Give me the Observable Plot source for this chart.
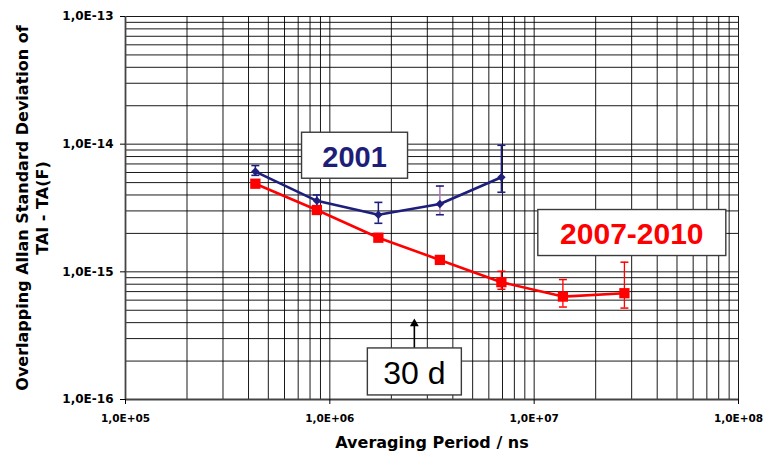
<!DOCTYPE html>
<html><head><meta charset="utf-8">
<script src="https://cdn.jsdelivr.net/npm/d3@7"></script>
<script src="https://cdn.jsdelivr.net/npm/@observablehq/plot@0.6"></script>
<style>
html,body{margin:0;padding:0;background:#fff;}
#chart svg{display:block;}
</style></head><body><div id="chart"></div>
<script>
// ---- data ----
const periods = [4.32e5, 8.64e5, 1.728e6, 3.456e6, 6.912e6, 1.3824e7, 2.7648e7];
const adev2001   = [6.1e-15, 3.6e-15, 2.8e-15, 3.4e-15, 5.5e-15];
const adev2001Lo = [5.7e-15, 3.25e-15, 2.4e-15, 2.8e-15, 4.2e-15];
const adev2001Hi = [6.8e-15, 4.0e-15, 3.5e-15, 4.7e-15, 9.8e-15];
const adev2007   = [4.9e-15, 3.05e-15, 1.85e-15, 1.24e-15, 8.3e-16, 6.4e-16, 6.8e-16];
const adev2007Lo = [4.75e-15, 2.95e-15, 1.8e-15, 1.16e-15, 7.3e-16, 5.3e-16, 5.2e-16];
const adev2007Hi = [5.05e-15, 3.15e-15, 1.9e-15, 1.32e-15, 1.01e-15, 8.7e-16, 1.19e-15];
const xTicks = [1e5, 1e6, 1e7, 1e8];
const yTicks = [1e-16, 1e-15, 1e-14, 1e-13];
const xTickLabels = ["1,0E+05", "1,0E+06", "1,0E+07", "1,0E+08"];
const yTickLabels = ["1,0E-16", "1,0E-15", "1,0E-14", "1,0E-13"];
const xTitle = "Averaging Period / ns";
const yTitle = "Overlapping Allan Standard Deviation of\nTAI - TA(F)";
const annotLabels = ["2001", "2007-2010", "30 d"];
const annotX = [1.321e6, 3.005e7, 2.592e6];
const annotY = [7.9e-15, 1.96e-15, 1.6e-16];
const arrowX = [2.592e6];
const arrowY1 = [2.47e-16];
const arrowY2 = [3.93e-16];

// ---- styles ----
const NAVY = "#1e1e7c", RED = "#ff0000";
const annotStyle = [
  {color: "#1e1e78", size: 29, weight: "bold", w: 106, h: 46},
  {color: "#ff0000", size: 30, weight: "bold", w: 188, h: 46},
  {color: "#000000", size: 32, weight: "normal", w: 94, h: 47}
];
const FONT = "'Liberation Sans', Arial, Helvetica, sans-serif";
const AXFONT = "'DejaVu Sans', Verdana, sans-serif";

// ---- derived tables ----
const s2001 = adev2001.map((v, i) => ({x: periods[i], y: v, lo: adev2001Lo[i], hi: adev2001Hi[i], i}));
const s2007 = adev2007.map((v, i) => ({x: periods[i], y: v, lo: adev2007Lo[i], hi: adev2007Hi[i], i}));
const gridX = [], gridY = [];
for (let e = 5; e < 8; e++) for (let m = 1; m < 10; m++) gridX.push(m * Math.pow(10, e));
gridX.push(1e8);
for (let e = -16; e < -13; e++) for (let m = 1; m < 10; m++) gridY.push(m * Math.pow(10, e));
gridY.push(1e-13);

const capSymbol = {draw(ctx, size) { const w = Math.sqrt(size / Math.PI); ctx.moveTo(-w, 0); ctx.lineTo(w, 0); }};

const annotMarks = annotLabels.map((t, i) => Plot.text([{x: annotX[i], y: annotY[i], t}], {
  x: "x", y: "y", text: "t", fill: annotStyle[i].color, fontSize: annotStyle[i].size,
  fontWeight: annotStyle[i].weight, textAnchor: "middle", lineAnchor: "middle"
}));

const chart = Plot.plot({
  width: 764, height: 461,
  marginLeft: 125, marginRight: 26, marginTop: 16, marginBottom: 62,
  style: {fontFamily: FONT, background: "#fff", color: "#000"},
  x: {type: "log", domain: [1e5, 1e8], axis: null},
  y: {type: "log", domain: [1e-16, 1e-13], axis: null},
  marks: [
    Plot.ruleX(gridX, {x: d => d, stroke: "#000", strokeWidth: 1, strokeOpacity: 0.9}),
    Plot.ruleY(gridY, {y: d => d, stroke: "#000", strokeWidth: 1, strokeOpacity: 0.9}),
    Plot.ruleX([1e5], {x: d => d, stroke: "#444", strokeWidth: 1.8}),
    Plot.ruleY([1e-16], {y: d => d, stroke: "#444", strokeWidth: 1.8}),
    // error bars
    Plot.ruleX(s2007, {x: "x", y1: "lo", y2: "hi", stroke: RED, strokeWidth: 1.3}),
    Plot.dot(s2007, {x: "x", y: "lo", symbol: capSymbol, r: 4, stroke: RED, strokeWidth: 1.5, fill: "none"}),
    Plot.dot(s2007, {x: "x", y: "hi", symbol: capSymbol, r: 4, stroke: RED, strokeWidth: 1.5, fill: "none"}),
    Plot.ruleX(s2001, {x: "x", y1: "lo", y2: "hi", stroke: d => d.i === 3 ? "#b070b8" : NAVY, strokeWidth: 1.5}),
    Plot.dot(s2001, {x: "x", y: "lo", symbol: capSymbol, r: 4, stroke: NAVY, strokeWidth: 1.6, fill: "none"}),
    Plot.dot(s2001, {x: "x", y: "hi", symbol: capSymbol, r: 4, stroke: NAVY, strokeWidth: 1.6, fill: "none"}),
    // lines
    Plot.line(s2007, {x: "x", y: "y", stroke: RED, strokeWidth: 2.6}),
    Plot.line(s2001, {x: "x", y: "y", stroke: NAVY, strokeWidth: 2.6}),
    Plot.dot(s2007, {x: "x", y: "y", symbol: "square", r: 5.8, fill: RED, stroke: "none"}),
    Plot.dot(s2001, {x: "x", y: "y", symbol: "diamond2", r: 3.8, fill: NAVY, stroke: "none"}),
    // arrow
    Plot.ruleX(arrowX, {x: d => d, y1: arrowY1[0], y2: arrowY2[0], stroke: "#000", strokeWidth: 1.6}),
    Plot.dot(arrowX, {x: d => d, y: arrowY2[0], symbol: "triangle", r: 3.3, fill: "#000", stroke: "none"}),
    ...annotMarks,
    // axes
    Plot.axisX({ticks: xTicks, tickFormat: d => xTickLabels[xTicks.indexOf(d)], tickSize: 5, tickPadding: 10,
      fontSize: 10.5, fontWeight: "bold", fontFamily: AXFONT, label: null}),
    Plot.axisY({ticks: yTicks, tickFormat: d => yTickLabels[yTicks.indexOf(d)], tickSize: 5, tickPadding: 7,
      fontSize: 12, fontWeight: "bold", fontFamily: AXFONT, label: null}),
    Plot.text([xTitle], {text: d => d, frameAnchor: "bottom", dy: 43, fontSize: 16, fontWeight: "bold",
      fontFamily: AXFONT, lineAnchor: "middle", textAnchor: "middle"}),
    Plot.text([yTitle], {text: d => d, frameAnchor: "left", rotate: -90, dx: -94, fontSize: 16,
      fontWeight: "bold", fontFamily: AXFONT, lineHeight: 1.25, lineAnchor: "middle", textAnchor: "middle"})
  ]
});
document.getElementById("chart").appendChild(chart);

// white boxes behind annotation texts
const allTexts = Array.from(chart.querySelectorAll("text"));
annotLabels.forEach((t, i) => {
  const txt = allTexts.find(el => el.textContent === t);
  if (!txt) return;
  const st = annotStyle[i];
  const rect = document.createElementNS("http://www.w3.org/2000/svg", "rect");
  rect.setAttribute("x", -st.w / 2);
  rect.setAttribute("y", -st.h / 2 - 2);
  rect.setAttribute("width", st.w);
  rect.setAttribute("height", st.h);
  rect.setAttribute("fill", "#fff");
  rect.setAttribute("stroke", "#3a3a3a");
  rect.setAttribute("stroke-width", 1.4);
  const tr = txt.getAttribute("transform");
  if (tr) rect.setAttribute("transform", tr);
  else rect.setAttribute("transform", `translate(${txt.getAttribute("x") || 0},${txt.getAttribute("y") || 0})`);
  txt.parentNode.insertBefore(rect, txt);
});
</script></body></html>
